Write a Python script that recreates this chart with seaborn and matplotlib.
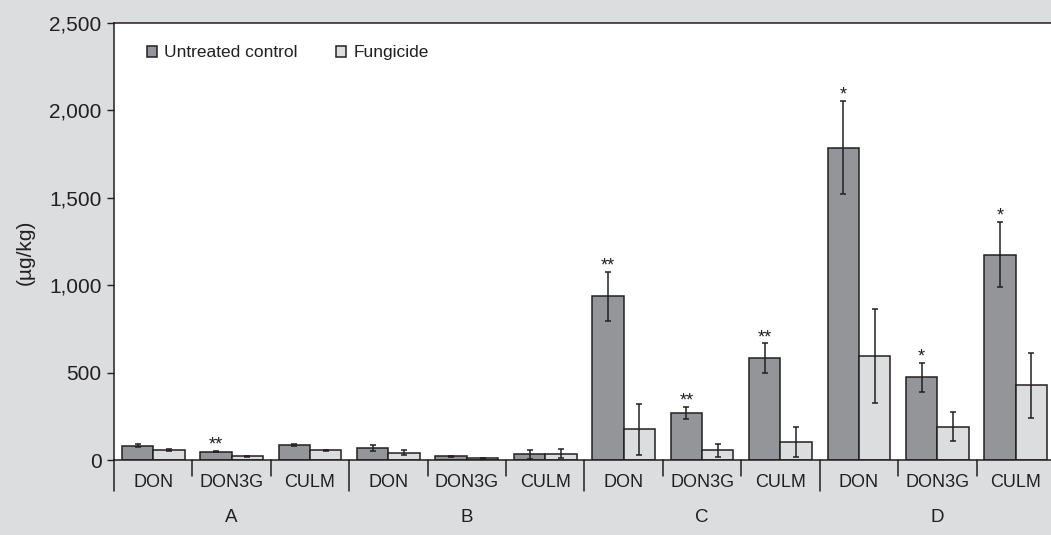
import pandas as pd
import seaborn as sns
import matplotlib.pyplot as plt
from matplotlib import font_manager as fm
from matplotlib.ticker import StrMethodFormatter
import matplotlib.transforms as mtransforms

groups = ["A", "B", "C", "D"]
compounds = ["DON", "DON3G", "CULM"]
treatments = ["Untreated control", "Fungicide"]

# values per (group, compound), in the order A-DON, A-DON3G, A-CULM, B-DON, ...
control_mean = [82, 48, 86, 67, 21, 33, 936, 267, 582, 1787, 473, 1175]
control_err = [8, 3, 6, 18, 4, 27, 141, 35, 85, 268, 82, 185]
fungicide_mean = [55, 21, 55, 42, 10, 37, 175, 55, 101, 595, 191, 427]
fungicide_err = [6, 2, 5, 15, 2, 27, 146, 35, 86, 268, 83, 184]
signif = ["", "**", "", "", "", "", "**", "**", "**", "*", "*", "*"]

BG = "#dcdddf"
DARK = "#939598"
LIGHT = "#dcdddf"
INK = "#231f20"


def pick_font(names):
    for n in names:
        try:
            fm.findfont(fm.FontProperties(family=n), fallback_to_default=False)
            return n
        except ValueError:
            pass
    return "DejaVu Sans"


keys = [f"{g}-{c}" for g in groups for c in compounds]
df = pd.DataFrame({
    "key": keys * 2,
    "treatment": [treatments[0]] * 12 + [treatments[1]] * 12,
    "value": control_mean + fungicide_mean,
    "err": control_err + fungicide_err,
})

sns.set_style("white")
font = pick_font(["Liberation Sans Narrow", "Liberation Sans", "Arial"])
plt.rcParams["font.family"] = [font, "DejaVu Sans"]
plt.rcParams["text.color"] = INK

fig = plt.figure(figsize=(10.51, 5.35), dpi=100, facecolor=BG)
ax = fig.add_axes([114 / 1051, 75 / 535, 937 / 1051, 437 / 535])
ax.set_facecolor("white")

sns.barplot(data=df, x="key", y="value", hue="treatment", order=keys,
            hue_order=treatments, palette=[DARK, LIGHT], saturation=1,
            edgecolor=INK, linewidth=1.1, errorbar=None, width=0.8, ax=ax)

# error bars and significance marks
for cont, errs, marks in zip(ax.containers, [control_err, fungicide_err],
                             [signif, [""] * 12]):
    xs = [p.get_x() + p.get_width() / 2 for p in cont.patches]
    ys = [p.get_height() for p in cont.patches]
    ax.errorbar(xs, ys, yerr=errs, fmt="none", ecolor=INK, elinewidth=1.1,
                capsize=2, capthick=1.1, zorder=5)
    for x, y, e, m in zip(xs, ys, errs, marks):
        if m:
            ax.annotate(m, xy=(x, y + e), xytext=(0, 1), textcoords="offset points",
                        ha="center", va="baseline", fontsize=13, color=INK)

ax.set_ylim(0, 2500)
ax.set_xlim(-0.5, 11.45)
ax.set_yticks(range(0, 2501, 500))
ax.yaxis.set_major_formatter(StrMethodFormatter("{x:,.0f}"))
ax.tick_params(axis="y", direction="out", length=5, width=1, color=INK,
               labelsize=15, labelcolor=INK, pad=4, left=True)
ax.tick_params(axis="x", length=0, labelsize=13, labelcolor=INK, pad=10)
ax.set_xticks(range(12))
ax.set_xticklabels(compounds * 4)
ax.set_xlabel("")
ax.set_ylabel("")

for side in ["left", "top", "bottom"]:
    ax.spines[side].set_visible(True)
    ax.spines[side].set_color(INK)
    ax.spines[side].set_linewidth(1.1)
ax.spines["right"].set_visible(False)

# category separators below the axis
trans = mtransforms.blended_transform_factory(ax.transData, ax.transAxes)
for i in range(12):
    depth = -31 / 437 if i % 3 == 0 else -16 / 437
    ax.plot([i - 0.5, i - 0.5], [0, depth], transform=trans, color=INK,
            lw=1.1, clip_on=False)
for gi, g in enumerate(groups):
    ax.text(gi * 3 + 1, -58 / 437, g, transform=trans, ha="center", va="center",
            fontsize=13.5, color=INK)

fig.text(25 / 1051, (535 - 252) / 535, "(\u00b5g/kg)", rotation=90,
         ha="center", va="center", fontsize=15, color=INK)

handles, labels = ax.get_legend_handles_labels()
for h in handles:
    h.set_edgecolor(INK)
    h.set_linewidth(1.1)
ax.legend(handles, labels, loc="upper left", bbox_to_anchor=(0.035, 0.949),
          ncol=2, frameon=False, fontsize=12.5, handlelength=0.6,
          handleheight=0.6, handletextpad=0.4, columnspacing=2.2,
          borderpad=0, borderaxespad=0)

fig.savefig("out.png", dpi=100, facecolor=BG)
